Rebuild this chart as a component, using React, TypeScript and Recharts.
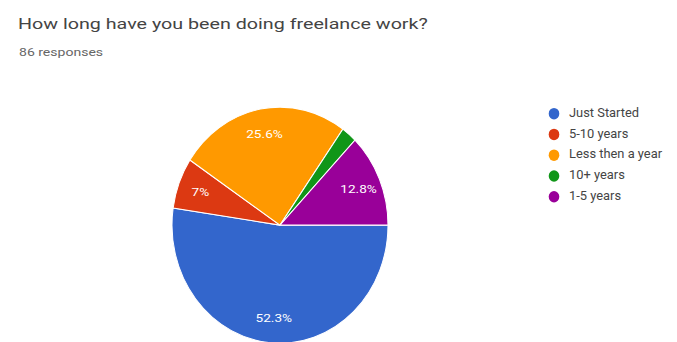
import React from "react";
import { PieChart, Pie, Cell, Legend } from "recharts";

const categories = ["Just Started", "5-10 years", "Less then a year", "10+ years", "1-5 years"];
const counts = [45, 6, 22, 2, 11];
const colors = ["#3366CC", "#DC3912", "#FF9900", "#109618", "#990099"];
const title = "How long have you been doing freelance work?";
const subtitle = "86 responses";

const data = categories.map((name, i) => ({ name, value: counts[i] }));

const FONT = "Roboto, Arial, sans-serif";
const SX = 1.27; // horizontal stretch of the reference's title text
const SY = 1.093; // vertical stretch of the reference's pie
const RAD = Math.PI / 180;

const renderLabel = (props: any) => {
  const { cx, cy, midAngle, outerRadius, percent } = props;
  if (percent < 0.05) return null;
  const r = outerRadius * 0.79;
  const x = cx + r * Math.cos(-midAngle * RAD);
  const y = cy + r * Math.sin(-midAngle * RAD);
  const v = Math.round(percent * 1000) / 10;
  const txt = (Number.isInteger(v) ? v.toFixed(0) : v.toFixed(1)) + "%";
  return (
    <text
      transform={`translate(${x},${y}) scale(1.3,1)`}
      fill="#fff"
      fontSize={10.5}
      fontFamily={FONT}
      textAnchor="middle"
      dominantBaseline="central"
    >
      {txt}
    </text>
  );
};

const LegendContent = () => (
  <div style={{ fontFamily: FONT, fontSize: 11, color: "#444" }}>
    {categories.map((c, i) => (
      <div key={c} style={{ display: "flex", alignItems: "center", height: 19, whiteSpace: "nowrap" }}>
        <svg width={12} height={12} style={{ marginRight: 9, flex: "none" }}>
          <circle cx={6} cy={6} r={5.3} fill={colors[i]} />
        </svg>
        <span style={{ display: "inline-block", transform: "scaleX(1.17)", transformOrigin: "0 50%" }}>{c}</span>
      </div>
    ))}
  </div>
);

export default function App() {
  return (
    <div style={{ position: "fixed", left: 0, top: 0, width: 677, height: 342, background: "#fff", overflow: "hidden" }}>
      <div
        style={{
          position: "absolute",
          left: 18,
          top: 15,
          fontFamily: FONT,
          fontSize: 15.5,
          color: "#444",
          whiteSpace: "nowrap",
          transform: `scaleX(${SX})`,
          transformOrigin: "0 0",
        }}
      >
        {title}
      </div>
      <div
        style={{
          position: "absolute",
          left: 19,
          top: 45,
          fontFamily: FONT,
          fontSize: 11.5,
          color: "#666",
          whiteSpace: "nowrap",
          transform: `scaleX(1.22)`,
          transformOrigin: "0 0",
        }}
      >
        {subtitle}
      </div>
      <div style={{ position: "absolute", left: 0, top: 0, transform: `scaleY(${SY})`, transformOrigin: "0 0" }}>
        <PieChart width={677} height={313} margin={{ top: 0, right: 0, bottom: 0, left: 0 }}>
          <Pie
            data={data}
            dataKey="value"
            nameKey="name"
            cx={280}
            cy={206}
            outerRadius={108}
            startAngle={0}
            endAngle={-360}
            stroke="#fff"
            strokeWidth={1}
            label={renderLabel}
            labelLine={false}
            isAnimationActive={false}
          >
            {data.map((d, i) => (
              <Cell key={d.name} fill={colors[i]} />
            ))}
          </Pie>
          <Legend
            layout="vertical"
            verticalAlign="top"
            align="right"
            content={<LegendContent />}
            wrapperStyle={{ left: 548, top: 94, width: 129 }}
          />
        </PieChart>
      </div>
    </div>
  );
}
